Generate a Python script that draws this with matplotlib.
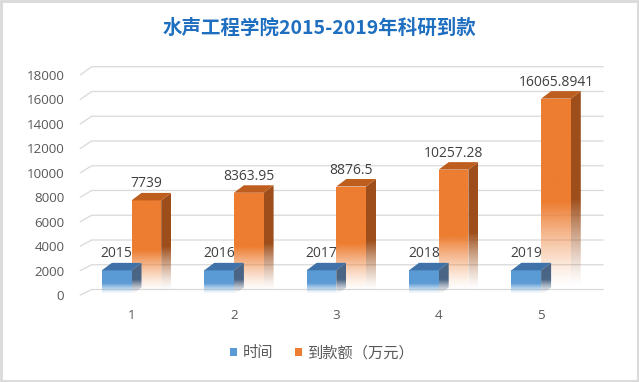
import numpy as np
import matplotlib
matplotlib.use("Agg")
import matplotlib.pyplot as plt
from matplotlib.patches import Polygon, Patch, Rectangle
from matplotlib.colors import to_rgb

plt.rcParams['font.family'] = ['Noto Sans CJK SC', 'DejaVu Sans']
num_font = ['Open Sans', 'DejaVu Sans']

# data
categories = ['1', '2', '3', '4', '5']
years = [2015, 2016, 2017, 2018, 2019]
funding = [7739, 8363.95, 8876.5, 10257.28, 16065.8941]
series_names = ['时间', '到款额（万元）']
title = '水声工程学院2015-2019年科研到款'
yticks = list(range(0, 18001, 2000))

W, H = 639, 382
fig = plt.figure(figsize=(W / 100, H / 100), dpi=100)

# front plane of the plot area in pixels
x_left, x_right = 80.3, 592.3
y_top, y_bot = 75.0, 295.0
ax = fig.add_axes([x_left / W, 1 - y_bot / H, (x_right - x_left) / W, (y_bot - y_top) / H])

sx = (x_right - x_left) / 5.0          # px per category unit
sy = (y_bot - y_top) / 18000.0         # px per value unit
ddx, ddy = 10 / sx, 7.5 / sy           # bar depth offset (data units)
bw = 0.29

blue, blue_top, blue_side = '#5B9BD5', '#3F72A8', '#4A6585'
orange, orange_top, orange_side = '#ED7D31', '#BE5E1E', '#9E4E1A'


def grad_face(verts, color, y0, y1, z):
    poly = Polygon(verts, closed=True, facecolor='none', edgecolor='none', zorder=z)
    ax.add_patch(poly)
    n = 256
    t = np.linspace(0, 1, n)
    a = np.clip((t - 0.04) / (0.47 - 0.04), 0, 1) ** 1.3
    img = np.zeros((n, 1, 4))
    img[..., :3] = to_rgb(color)
    img[:, 0, 3] = a
    xs = [v[0] for v in verts]
    im = ax.imshow(img, extent=(min(xs), max(xs), y0, y1), origin='lower',
                   aspect='auto', interpolation='bilinear', zorder=z)
    im.set_clip_path(poly)


def bar3d(x0, h, front, top, side, z):
    x1 = x0 + bw
    grad_face([(x0, 0), (x1, 0), (x1, h), (x0, h)], front, 0, h, z)
    grad_face([(x1, 0), (x1 + ddx, ddy), (x1 + ddx, h + ddy), (x1, h)], side, 0, h + ddy, z)
    ax.add_patch(Polygon([(x0, h), (x1, h), (x1 + ddx, h + ddy), (x0 + ddx, h + ddy)],
                         closed=True, facecolor=top, edgecolor='none', zorder=z + 0.1))


# back wall / side wall gridlines
wx0 = 0.5 + 11.4 / sx
wx1 = 0.5 + (603 - x_left) / sx
for v in yticks:
    vb = 450 + v * 1.0126
    ax.plot([0.5, wx0, wx1], [v, vb, vb], color='#D9D9D9', lw=0.9, zorder=0, clip_on=False)

for i, (yr, fd) in enumerate(zip(years, funding)):
    c = i + 1
    bar3d(c, fd, orange, orange_top, orange_side, 2 + i)
    bar3d(c - bw, yr, blue, blue_top, blue_side, 2.5 + i)
    ax.text(c + bw / 2, fd + ddy + 9 / sy, f'{fd:.10g}', ha='center', va='center',
            fontsize=10, family=num_font, color='#404040', zorder=20)
    ax.text(c - bw / 2, yr + ddy + 9 / sy, str(yr), ha='center', va='center',
            fontsize=10, family=num_font, color='#404040', zorder=20)

ax.set_xlim(0.5, 5.5)
ax.set_ylim(0, 18000)
ax.set_xticks(range(1, 6))
ax.set_xticklabels(categories, family=num_font)
ax.set_yticks(yticks)
ax.set_yticklabels([str(v) for v in yticks], family=num_font)
ax.tick_params(axis='y', length=0, pad=11.5, labelsize=9.6, labelcolor='#595959')
ax.tick_params(axis='x', length=0, pad=10, labelsize=9.6, labelcolor='#595959')
for s in ax.spines.values():
    s.set_visible(False)
ax.patch.set_visible(False)

fig.text(319 / W, 1 - 28 / H, title, ha='center', va='center', fontsize=14,
         fontweight='bold', color='#1F6FC0')

handles = [Patch(facecolor=blue, edgecolor='none'), Patch(facecolor=orange, edgecolor='none')]
leg = fig.legend(handles, series_names, loc='center', bbox_to_anchor=(322 / W, 1 - 353 / H),
                 ncol=2, frameon=False, handlelength=0.46, handleheight=0.46,
                 handletextpad=0.36, columnspacing=1.4, fontsize=11)
for t in leg.get_texts():
    t.set_color('#595959')

fig.patches.append(Rectangle((0.002, 0.003), 0.996, 0.994, transform=fig.transFigure,
                             fill=False, edgecolor='#D9D9D9', lw=2))

fig.savefig('out.png', dpi=100)
